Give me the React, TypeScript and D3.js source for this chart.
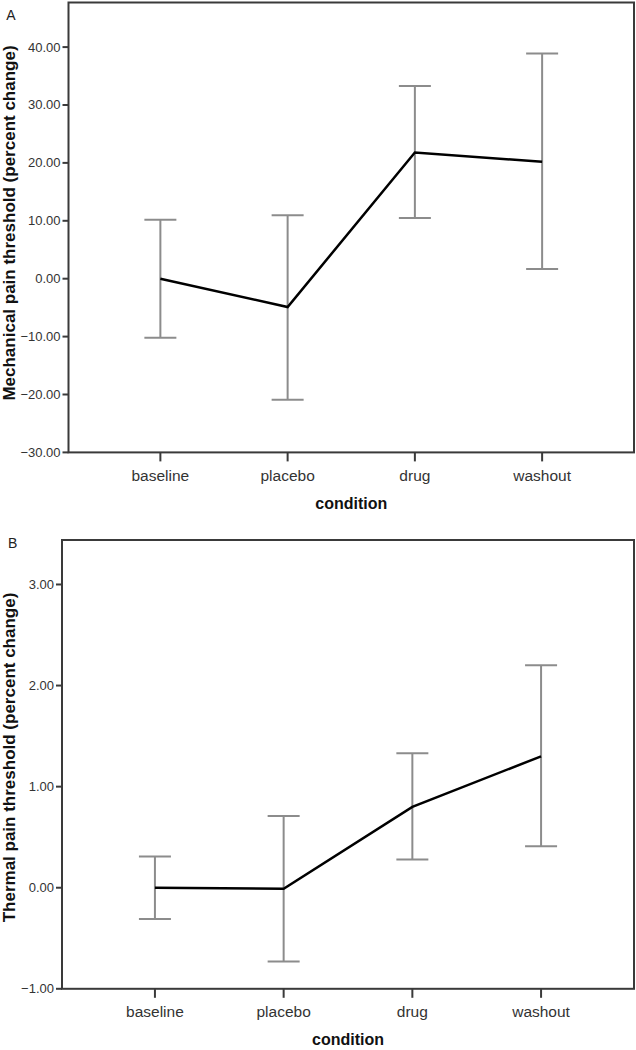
import React from "react";
import * as d3 from "d3";

const conditions = ["baseline", "placebo", "drug", "washout"];

const mechMean = [0.0, -4.9, 21.8, 20.2];
const mechUpper = [10.2, 10.95, 33.3, 38.9];
const mechLower = [-10.2, -20.9, 10.5, 1.66];
const mechTicks = [-30, -20, -10, 0, 10, 20, 30, 40];

const thermMean = [0.0, -0.01, 0.8, 1.3];
const thermUpper = [0.31, 0.71, 1.33, 2.2];
const thermLower = [-0.31, -0.73, 0.28, 0.41];
const thermTicks = [-1, 0, 1, 2, 3];

const FONT = "'Liberation Sans', Arial, sans-serif";
const fmt = d3.format(".2f");

type PanelProps = {
  letter: string;
  title: string;
  titleY: number;
  left: number;
  right: number;
  top: number;
  bottom: number;
  domain: [number, number];
  ticks: number[];
  mean: number[];
  upper: number[];
  lower: number[];
  letterX: number;
  letterY: number;
};

function Panel(p: PanelProps) {
  const x = d3.scalePoint<string>().domain(conditions).range([p.left, p.right]).padding(0.722);
  const y = d3.scaleLinear().domain(p.domain).range([p.bottom, p.top]);
  const line = d3
    .line<number>()
    .x((_, i) => x(conditions[i]) as number)
    .y((d) => y(d));
  const cap = 16;
  return (
    <g>
      <text x={p.letterX} y={p.letterY} fontSize={14} fontFamily={FONT} fill="#222" textAnchor="middle" dominantBaseline="central">
        {p.letter}
      </text>
      {conditions.map((c, i) => {
        const cx = x(c) as number;
        return (
          <g key={c} stroke="#8c8c8c" strokeWidth={2} fill="none">
            <line x1={cx} x2={cx} y1={y(p.upper[i])} y2={y(p.lower[i])} />
            <line x1={cx - cap} x2={cx + cap} y1={y(p.upper[i])} y2={y(p.upper[i])} />
            <line x1={cx - cap} x2={cx + cap} y1={y(p.lower[i])} y2={y(p.lower[i])} />
          </g>
        );
      })}
      <path d={line(p.mean) || ""} fill="none" stroke="#000" strokeWidth={2.5} strokeLinejoin="miter" />
      <rect x={p.left} y={p.top} width={p.right - p.left} height={p.bottom - p.top} fill="none" stroke="#3a3a3a" strokeWidth={2} />
      {p.ticks.map((t) => (
        <g key={t}>
          <line x1={p.left - 6} x2={p.left} y1={y(t)} y2={y(t)} stroke="#3a3a3a" strokeWidth={2} />
          <text x={p.left - 8} y={y(t)} fontSize={13} fontFamily={FONT} fill="#333" textAnchor="end" dominantBaseline="central">
            {fmt(t)}
          </text>
        </g>
      ))}
      {conditions.map((c) => (
        <g key={c}>
          <line x1={x(c) as number} x2={x(c) as number} y1={p.bottom} y2={p.bottom + 9} stroke="#3a3a3a" strokeWidth={2} />
          <text x={x(c) as number} y={p.bottom + 23} fontSize={15.5} fontFamily={FONT} fill="#333" textAnchor="middle" dominantBaseline="central">
            {c}
          </text>
        </g>
      ))}
      <text x={(p.left + p.right) / 2} y={p.bottom + 51} fontSize={16} fontWeight="bold" fontFamily={FONT} fill="#111" textAnchor="middle" dominantBaseline="central">
        condition
      </text>
      <text
        transform={`translate(14.5,${p.titleY}) rotate(-90)`}
        fontSize={17}
        fontWeight="bold"
        fontFamily={FONT}
        fill="#111"
        textAnchor="middle"
      >
        {p.title}
      </text>
    </g>
  );
}

export default function App() {
  return (
    <svg width={636} height={1050} style={{ position: "absolute", left: 0, top: 0, background: "#fff" }}>
      <rect x={0} y={0} width={636} height={1050} fill="#fff" />
      <Panel
        letter="A"
        title="Mechanical pain threshold (percent change)"
        titleY={223}
        left={68.5}
        right={634}
        top={2.5}
        bottom={452.4}
        domain={[-30, 47.7]}
        ticks={mechTicks}
        mean={mechMean}
        upper={mechUpper}
        lower={mechLower}
        letterX={11}
        letterY={15}
      />
      <Panel
        letter="B"
        title="Thermal pain threshold (percent change)"
        titleY={757.5}
        left={62}
        right={634}
        top={540}
        bottom={988.8}
        domain={[-1, 3.44]}
        ticks={thermTicks}
        mean={thermMean}
        upper={thermUpper}
        lower={thermLower}
        letterX={12.7}
        letterY={543}
      />
    </svg>
  );
}
